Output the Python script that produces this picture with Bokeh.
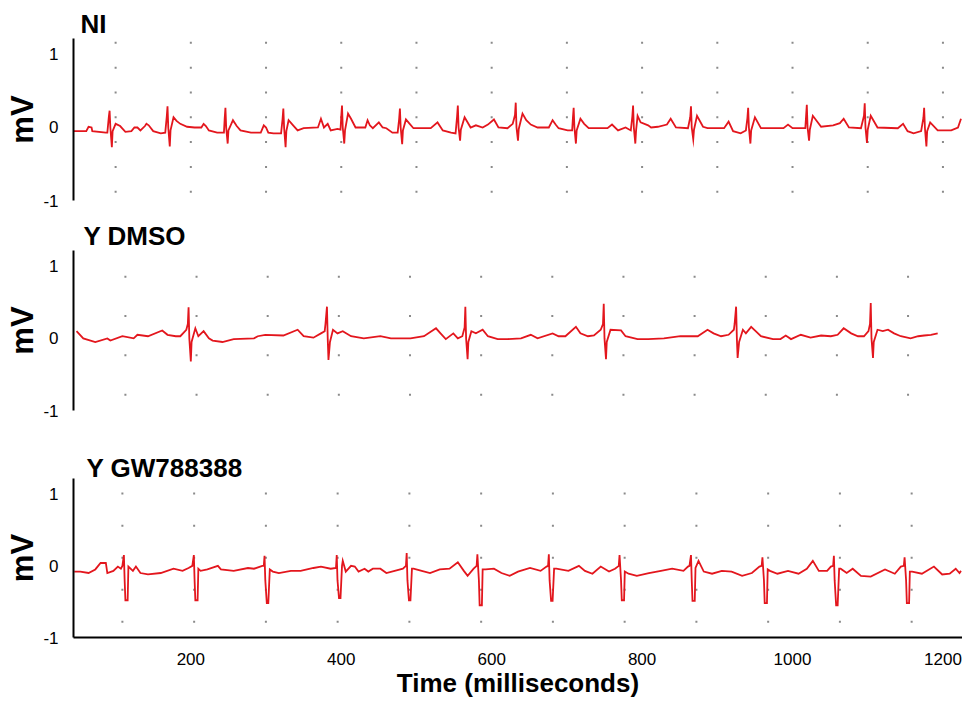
from bokeh.plotting import figure
from bokeh.layouts import column
from bokeh.models import FixedTicker, Range1d
from bokeh.embed import file_html
from bokeh.resources import INLINE
import numpy as np

# ---------------- data (time in ms, potential in mV) ----------------
NI = [(44,-0.05),(61,-0.05),(64,0.01),(68,0.0),(69,-0.05),(87,-0.07),(89,-0.07),
(91,0.15),(92,0.23),(93,0.0),(95,-0.27),(96,-0.05),(100,0.05),(106,0.02),(113,-0.06),(121,-0.05),(125,0.0),(129,0.0),(133,-0.04),(139,0.02),(141,0.05),(144,0.03),(150,-0.05),(160,-0.08),(166,-0.07),
(168,0.15),(169,0.29),(170,0.0),(172,-0.26),(173,-0.04),(177,0.14),(181,0.09),(186,0.05),(195,0.01),(205,0.0),(214,0.0),(217,0.05),(220,0.02),(224,-0.04),(235,-0.07),(244,-0.07),
(245,0.12),(246,0.27),(247,0.0),(249,-0.22),(250,-0.04),(256,0.10),(261,0.02),(266,-0.04),(280,-0.07),(293,-0.07),(297,0.03),(300,0.0),(303,-0.07),(310,-0.08),(320,-0.08),
(322,0.12),(323,0.26),(324,0.0),(326,-0.27),(327,-0.05),(330,0.10),(336,0.03),(342,-0.04),(350,-0.01),(369,0.0),(373,0.12),(377,0.0),(382,0.05),(386,-0.04),(395,-0.02),(399,-0.03),
(400,0.15),(401,0.30),(402,0.0),(404,-0.22),(405,-0.04),(409,0.19),(413,0.12),(419,0.0),(432,0.0),(435,0.10),(438,0.03),(442,-0.01),(450,0.07),(455,0.0),(460,-0.01),(468,-0.07),(475,-0.07),
(477,0.12),(478,0.26),(479,0.0),(481,-0.23),(482,-0.04),(486,0.11),(491,0.05),(496,-0.01),(519,-0.01),(528,0.07),(535,-0.04),(546,-0.07),(552,-0.08),
(554,0.15),(555,0.30),(556,0.0),(558,-0.18),(559,-0.03),(564,0.14),(572,0.0),(579,0.03),(588,0.0),(595,0.04),(603,0.11),(609,0.0),(621,-0.01),(628,0.05),
(631,0.17),(632,0.34),(633,0.0),(635,-0.18),(636,-0.02),(641,0.19),(646,0.10),(652,0.04),(661,0.0),(676,0.0),(681,0.10),(685,0.04),(689,-0.01),(701,-0.04),(707,-0.04),
(708,0.13),(709,0.27),(710,0.0),(712,-0.22),(713,-0.04),(718,0.12),(723,0.05),(729,-0.01),(754,-0.01),(760,0.04),(768,-0.04),(778,0.0),(785,-0.04),
(787,0.15),(788,0.30),(789,0.0),(791,-0.22),(792,-0.04),(794,0.16),(798,0.07),(808,0.03),(812,0.0),(821,0.01),(833,0.04),(838,0.12),(845,0.0),(861,-0.01),
(864,0.14),(865,0.29),(866,0.0),(868,-0.16),(869,-0.03),(873,0.16),(881,0.01),(887,-0.01),(909,-0.01),(915,0.08),(921,-0.05),(931,-0.08),(938,-0.04),
(940,0.13),(941,0.27),(942,0.0),(944,-0.22),(945,-0.04),(950,0.14),(958,-0.01),(988,-0.01),(994,0.04),(1000,-0.01),(1017,-0.01),
(1018,0.15),(1019,0.31),(1020,0.0),(1022,-0.18),(1023,-0.03),(1027,0.16),(1038,0.01),(1054,0.03),(1063,0.06),(1068,0.12),(1075,0.0),(1091,-0.01),
(1095,0.16),(1096,0.33),(1097,0.0),(1099,-0.21),(1100,-0.03),(1104,0.16),(1113,0.0),(1140,-0.01),(1147,0.05),(1153,-0.05),(1161,-0.08),(1171,-0.05),
(1174,0.13),(1175,0.27),(1176,0.0),(1178,-0.26),(1179,-0.05),(1183,0.07),(1193,-0.04),(1211,-0.04),(1220,0.0),(1224,0.12)]

DMSO = [(48,0.10),(57,0.0),(73,-0.05),(89,0.0),(93,-0.03),(109,0.03),(124,0.0),(129,0.05),(143,0.03),(162,0.11),(169,0.05),(180,0.03),(186,0.03),(194,0.12),
(196,0.20),(197,0.43),(198,0.0),(200,-0.32),(201,-0.05),(206,0.14),(210,0.03),(217,0.10),(224,0.0),(229,-0.03),(242,-0.05),(257,-0.01),(284,0.0),(289,0.03),(299,0.05),(323,0.04),(342,0.12),(350,0.03),(363,0.01),(373,0.07),(378,0.10),
(379,0.20),(381,0.44),(382,0.0),(383,-0.30),(385,-0.05),(389,0.12),(395,0.07),(402,0.10),(413,0.03),(430,0.0),(452,0.03),(466,0.0),(492,0.0),(510,0.03),(526,0.14),(532,0.07),(539,-0.01),(549,0.07),(555,0.0),(561,0.03),
(564,0.15),(565,0.44),(566,0.0),(568,-0.29),(569,-0.05),(573,0.10),(579,0.07),(588,0.12),(595,0.03),(608,-0.01),(621,-0.01),(639,0.0),(652,0.05),(661,0.0),(681,0.07),(689,0.03),(698,0.03),(712,0.16),(718,0.07),(728,0.03),(736,0.04),(745,0.12),
(748,0.20),(749,0.48),(750,0.0),(752,-0.29),(753,-0.05),(758,0.12),(772,0.11),(778,0.03),(794,-0.01),(808,-0.01),(829,0.0),(851,0.03),(874,0.03),(887,0.12),(895,0.07),(905,0.03),(915,0.05),(922,0.12),
(923,0.20),(925,0.44),(926,0.0),(927,-0.27),(929,-0.05),(934,0.12),(938,0.07),(945,0.16),(951,0.10),(958,0.03),(974,-0.01),(984,-0.01),(991,0.04),(998,-0.01),(1011,0.05),(1024,0.01),(1038,0.04),(1051,0.03),(1060,0.05),(1068,0.14),(1078,0.07),(1087,0.03),(1095,0.03),(1101,0.10),
(1103,0.20),(1104,0.49),(1105,0.0),(1107,-0.27),(1108,-0.05),(1113,0.12),(1120,0.10),(1127,0.12),(1135,0.07),(1144,0.03),(1157,0.0),(1167,0.03),(1175,0.04),(1184,0.05),(1193,0.07)]

GW = [(45,-0.08),(53,-0.08),(64,-0.10),(73,-0.05),(80,0.04),(87,0.04),(89,-0.10),(97,-0.07),(103,-0.01),(107,-0.04),
(109,0.0),(111,0.15),(112,-0.20),(113,-0.48),(116,-0.48),(117,-0.01),(123,-0.07),(127,-0.01),(133,-0.10),(143,-0.12),(160,-0.10),(177,-0.04),(189,-0.07),(197,-0.03),
(202,0.0),(204,0.15),(205,-0.20),(206,-0.48),(209,-0.48),(210,-0.04),(213,-0.07),(222,-0.05),(236,0.0),(240,-0.05),(257,-0.07),(276,-0.03),(284,-0.04),(295,0.0),
(297,0.0),(298,0.14),(299,-0.20),(301,-0.52),(303,-0.52),(305,-0.05),(309,-0.08),(317,-0.10),(333,-0.07),(346,-0.07),(363,-0.03),(373,-0.01),(386,-0.04),(393,-0.03),
(394,0.15),(395,-0.20),(397,-0.45),(399,-0.45),(401,0.0),(402,0.07),(406,-0.08),(413,0.0),(418,-0.01),(423,-0.08),(431,-0.04),(436,-0.08),(442,-0.04),(452,-0.04),(460,-0.10),(471,-0.07),(482,-0.04),
(486,0.0),(487,0.18),(488,-0.20),(490,-0.48),(492,-0.48),(494,-0.04),(496,-0.04),(507,-0.07),(518,-0.10),(531,-0.05),(544,-0.04),(555,0.05),(563,-0.07),(568,-0.14),(576,-0.04),
(580,0.0),(581,0.16),(583,-0.20),(584,-0.55),(587,-0.55),(588,-0.05),(592,-0.05),(603,-0.04),(613,-0.10),(624,-0.14),(635,-0.08),(651,-0.03),(665,-0.07),(673,-0.01),
(675,0.0),(676,0.16),(677,-0.20),(679,-0.49),(681,-0.49),(683,-0.04),(686,-0.04),(702,-0.07),(716,0.0),(724,-0.07),(734,-0.11),(745,-0.01),(756,-0.08),(764,-0.04),
(769,0.0),(770,0.15),(772,-0.20),(773,-0.48),(776,-0.48),(777,-0.08),(782,-0.11),(793,-0.14),(809,-0.10),(825,-0.07),(840,-0.04),(855,-0.07),(861,-0.01),
(863,0.0),(865,0.15),(866,-0.20),(867,-0.49),(870,-0.49),(871,-0.03),(875,0.07),(882,-0.08),(893,-0.11),(906,-0.07),(919,-0.08),(933,-0.14),(946,-0.10),(956,-0.01),
(959,0.0),(960,0.12),(962,-0.20),(963,-0.52),(966,-0.52),(967,-0.05),(970,-0.07),(980,-0.11),(994,-0.07),(1008,-0.11),(1019,-0.04),(1027,0.07),(1035,-0.07),(1046,-0.07),(1051,-0.01),
(1054,0.0),(1055,0.14),(1056,-0.20),(1058,-0.55),(1060,-0.55),(1062,-0.04),(1064,-0.04),(1072,-0.10),(1080,-0.04),(1091,-0.14),(1104,-0.15),(1123,-0.05),(1136,-0.11),(1144,-0.01),
(1148,0.0),(1149,0.12),(1151,-0.20),(1152,-0.52),(1155,-0.52),(1156,-0.08),(1159,-0.08),(1172,-0.11),(1188,-0.01),(1199,-0.12),(1209,-0.11),(1217,-0.04),(1222,-0.10),(1224,-0.07)]

ni_time = [a for a, b in NI]
ni_mv = [b for a, b in NI]
dmso_time = [a for a, b in DMSO]
dmso_mv = [b for a, b in DMSO]
gw_time = [a for a, b in GW]
gw_mv = [b for a, b in GW]

panel_titles = ["NI", "Y DMSO", "Y  GW788388"]
y_ticks = [-1, 0, 1]
y_tick_labels = {-1: "-1", 0: "0", 1: "1"}
x_ticks = [200, 400, 600, 800, 1000, 1200]
x_title = "Time (milliseconds)"
y_title = "mV"

# ---------------- styling ----------------
FONT = "Liberation Sans"
RED = "#e3161d"
DOT = "#8a8a8a"
x_range = Range1d(44, 1226)


def make_panel(height, top, bottom, with_x, t, v, title, title_offset, title_standoff,
               grid_x, grid_y):
    kw = dict(width=962, height=height, x_range=x_range, y_range=Range1d(-1.0, 1.219),
              output_backend="svg", toolbar_location=None,
              min_border_left=73, min_border_right=0,
              min_border_top=top, min_border_bottom=bottom)
    if not with_x:
        kw["x_axis_location"] = None
    p = figure(**kw)
    p.outline_line_color = None
    p.grid.visible = False
    p.background_fill_color = "white"
    p.border_fill_color = "white"

    p.title.text = title
    p.title.align = "left"
    p.title.offset = title_offset
    p.title.standoff = title_standoff
    p.title.text_font = FONT
    p.title.text_font_style = "bold"
    p.title.text_font_size = "26px"
    p.title.text_color = "black"

    gx, gy = np.meshgrid(grid_x, grid_y)
    p.scatter(gx.ravel(), gy.ravel(), marker="square", size=2, color=DOT, line_color=None)
    p.line(t, v, line_color=RED, line_width=1.8, line_join="miter")

    ya = p.yaxis[0]
    ya.ticker = FixedTicker(ticks=y_ticks)
    ya.major_label_overrides = y_tick_labels
    ya.major_tick_line_color = None
    ya.minor_tick_line_color = None
    ya.axis_line_width = 2
    ya.axis_line_color = "black"
    ya.major_label_text_font = FONT
    ya.major_label_text_font_size = "17px"
    ya.major_label_text_color = "black"
    ya.major_label_standoff = 9
    ya.axis_label = y_title
    ya.axis_label_text_font = FONT
    ya.axis_label_text_font_style = "bold"
    ya.axis_label_text_font_size = "31px"
    ya.axis_label_text_color = "black"
    ya.axis_label_standoff = 0

    if with_x:
        xa = p.xaxis[0]
        xa.ticker = FixedTicker(ticks=x_ticks)
        xa.major_tick_line_color = None
        xa.minor_tick_line_color = None
        xa.axis_line_width = 2
        xa.axis_line_color = "black"
        xa.major_label_text_font = FONT
        xa.major_label_text_font_size = "17px"
        xa.major_label_text_color = "black"
        xa.major_label_standoff = 9
        xa.axis_label = x_title
        xa.axis_label_text_font = FONT
        xa.axis_label_text_font_style = "bold"
        xa.axis_label_text_font_size = "26px"
        xa.axis_label_text_color = "black"
        xa.axis_label_standoff = 0
    return p


p1 = make_panel(218, 38, 18, False, ni_time, ni_mv, panel_titles[0], 7, 0,
                np.arange(100, 1201, 100), np.arange(-0.88, 1.2, 0.34))
p2 = make_panel(230, 30, 38, False, dmso_time, dmso_mv, panel_titles[1], 10, 0,
                np.arange(113, 1200, 94.6), np.arange(-0.78, 1.2, 0.545))
p3 = make_panel(252, 30, 60, True, gw_time, gw_mv, panel_titles[2], 13, -8,
                np.arange(109, 1200, 95.4), np.arange(-0.78, 1.2, 0.447))

layout = column(p1, p2, p3, spacing=0)
open("out.html", "w").write(file_html(layout, INLINE))
